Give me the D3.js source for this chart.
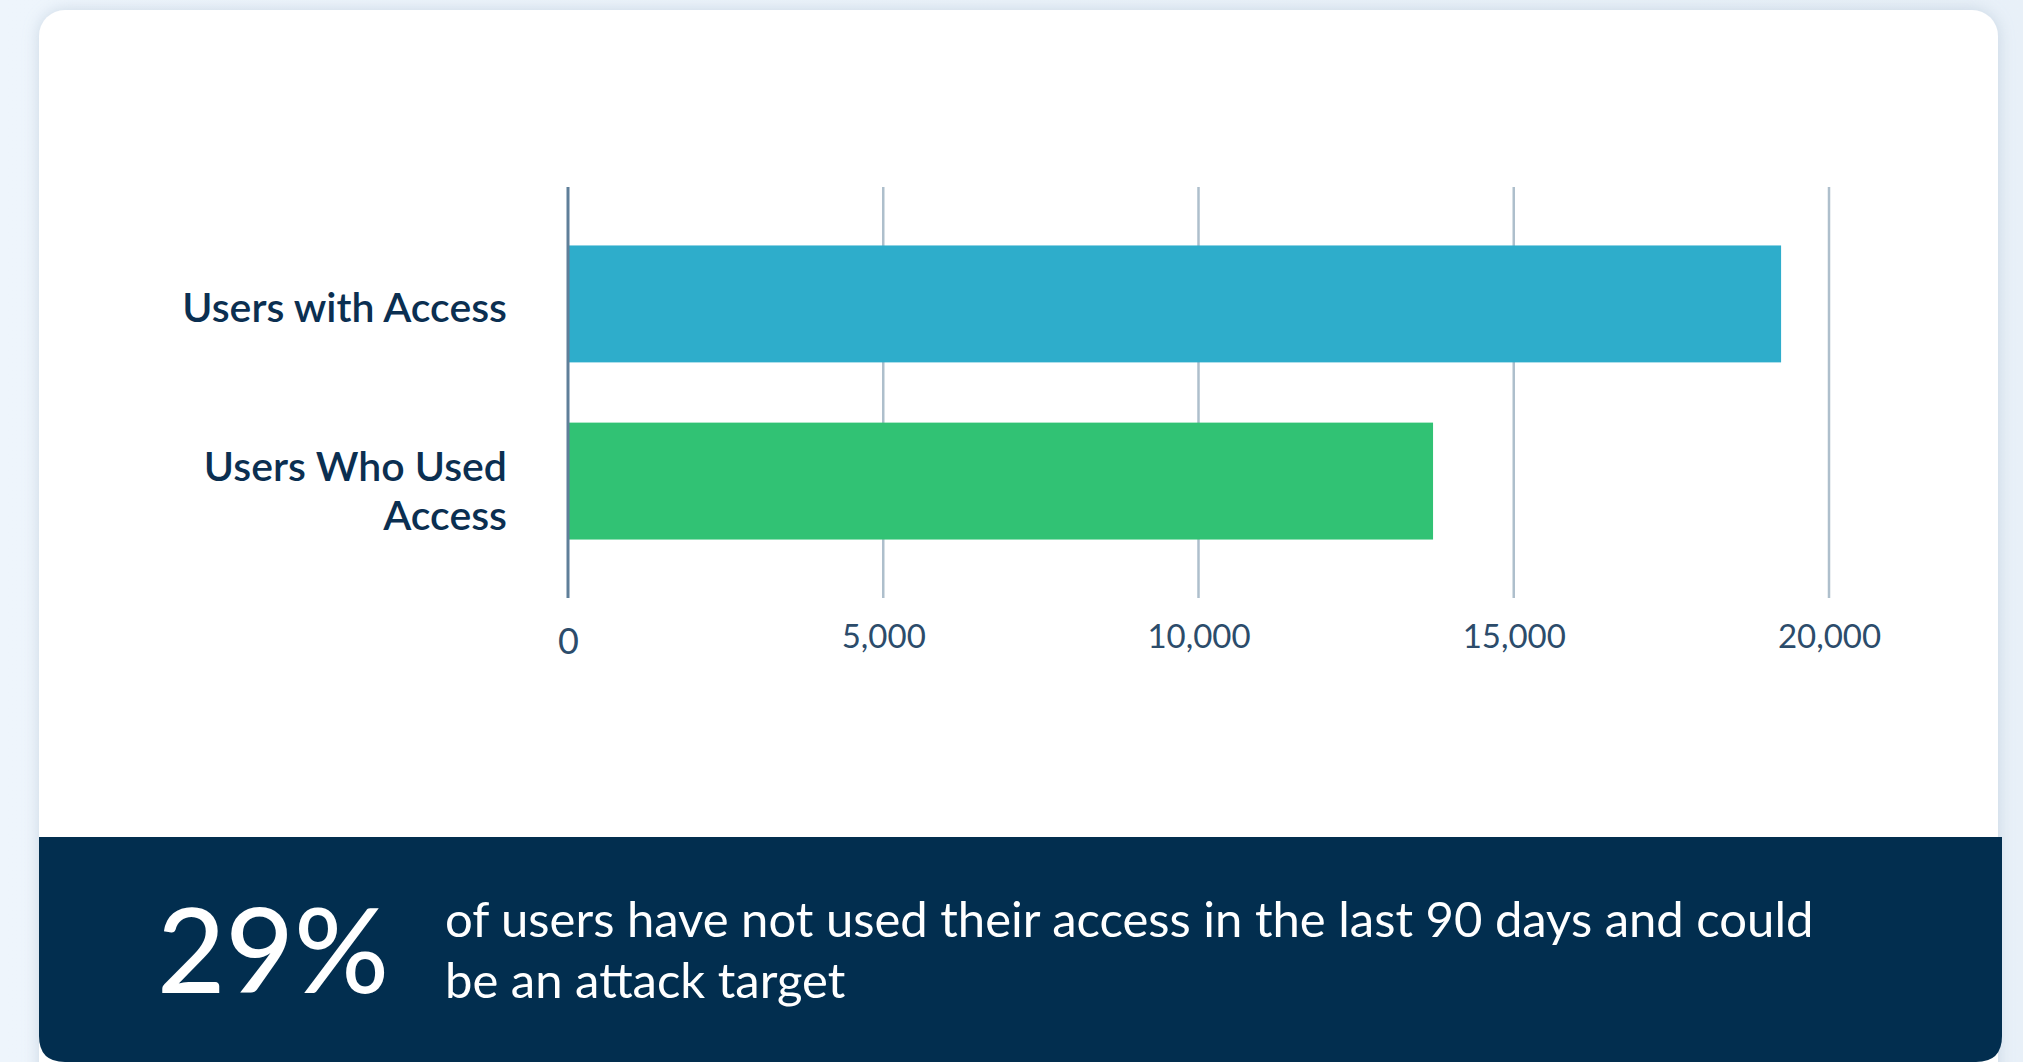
<!DOCTYPE html>
<html>
<head>
<meta charset="utf-8">
<script src="https://cdn.jsdelivr.net/npm/d3@7"></script>
<style>
  html, body { margin: 0; padding: 0; background: #edf3fa; }
  body { width: 2023px; height: 1062px; overflow: hidden; font-family: Lato, "Noto Sans", sans-serif; }
</style>
</head>
<body>
<div id="chart"></div>
<script>
// Chart data
const categories = ["Users with Access", "Users Who Used Access"];
const values = [19240, 13720];
const barColors = ["#2eadcb", "#31c274"];
const tickValues = [0, 5000, 10000, 15000, 20000];
const statValue = "29%";
const statText = ["of users have not used their access in the last 90 days and could", "be an attack target"];

const width = 2023, height = 1062;

const svg = d3.select("#chart")
  .append("svg")
  .attr("width", width)
  .attr("height", height);

// page background gradient + card shadow
const defs = svg.append("defs");
const bg = defs.append("linearGradient").attr("id", "bg").attr("x1", 0).attr("y1", 0).attr("x2", 1).attr("y2", 0);
bg.append("stop").attr("offset", "0%").attr("stop-color", "#eef5fc");
bg.append("stop").attr("offset", "100%").attr("stop-color", "#e8f0f8");
const shadow = defs.append("filter").attr("id", "shadow").attr("x", "-5%").attr("y", "-5%").attr("width", "110%").attr("height", "110%");
shadow.append("feDropShadow").attr("dx", 0).attr("dy", 0).attr("stdDeviation", 8)
  .attr("flood-color", "#9fb3c8").attr("flood-opacity", 0.45);

svg.append("rect").attr("width", width).attr("height", height).attr("fill", "url(#bg)");

// card
svg.append("rect")
  .attr("x", 39).attr("y", 10)
  .attr("width", 1959).attr("height", 1100)
  .attr("rx", 26)
  .attr("fill", "#ffffff")
  .attr("filter", "url(#shadow)");

// chart area
const margin = { left: 568, right: 2023 - 1829, top: 187, bottom: 1062 - 598 };

const x = d3.scaleLinear()
  .domain([0, 20000])
  .range([margin.left, width - margin.right]);

const y = d3.scaleBand()
  .domain(categories)
  .range([margin.top, height - margin.bottom])
  .paddingInner(0.34)
  .paddingOuter(0.33);

// gridlines
svg.append("g")
  .selectAll("line")
  .data(tickValues.slice(1))
  .enter()
  .append("line")
  .attr("x1", d => x(d)).attr("x2", d => x(d))
  .attr("y1", margin.top).attr("y2", height - margin.bottom)
  .attr("stroke", "#aebfcc")
  .attr("stroke-width", 2.5);

// bars
svg.append("g")
  .selectAll("rect")
  .data(values)
  .enter()
  .append("rect")
  .attr("x", x(0))
  .attr("y", (d, i) => y(categories[i]))
  .attr("width", d => x(d) - x(0))
  .attr("height", y.bandwidth())
  .attr("fill", (d, i) => barColors[i]);

// zero line
svg.append("line")
  .attr("x1", x(0)).attr("x2", x(0))
  .attr("y1", margin.top).attr("y2", height - margin.bottom)
  .attr("stroke", "#5f7f99")
  .attr("stroke-width", 3);

// x axis tick labels
const xAxis = d3.axisBottom(x)
  .tickValues(tickValues)
  .tickFormat(d3.format(","))
  .tickSize(0)
  .tickPadding(0);

const xg = svg.append("g")
  .attr("transform", `translate(0, ${height - margin.bottom + 50})`)
  .call(xAxis);
xg.select(".domain").remove();
xg.selectAll("text")
  .attr("dy", 0)
  .attr("y", 0)
  .style("font-family", "Lato, sans-serif")
  .style("font-size", "33px")
  .style("fill", "#2c4c6b");
xg.selectAll(".tick").filter(d => d === 0).select("text")
  .style("font-size", "36px")
  .attr("y", 6);

// y labels, wrapped
const yg = svg.append("g");
categories.forEach(cat => {
  const words = cat.split(" ");
  const lines = [];
  let line = [];
  const maxChars = 17;
  words.forEach(w => {
    const test = line.concat(w).join(" ");
    if (test.length > maxChars && line.length) {
      lines.push(line.join(" "));
      line = [w];
    } else {
      line.push(w);
    }
  });
  lines.push(line.join(" "));
  const lh = 49;
  const cy = y(cat) + y.bandwidth() / 2;
  const shift = lines.length > 1 ? 10 : 4;
  const t = yg.append("text")
    .attr("x", 507)
    .attr("text-anchor", "end")
    .style("font-family", "Lato, sans-serif")
    .style("font-weight", 600)
    .style("font-size", "41px")
    .style("fill", "#0b2f51");
  lines.forEach((l, i) => {
    t.append("tspan")
      .attr("x", 507)
      .attr("y", cy + shift + 14.5 + (i - (lines.length - 1) / 2) * lh)
      .text(l);
  });
});

// footer banner
const fx0 = 39, fx1 = 2002, fy0 = 837, fy1 = 1062, r = 26;
svg.append("path")
  .attr("d", `M${fx0},${fy0} H${fx1} V${fy1 - r} Q${fx1},${fy1} ${fx1 - r},${fy1} H${fx0 + r} Q${fx0},${fy1} ${fx0},${fy1 - r} Z`)
  .attr("fill", "#022e4f");

svg.append("text")
  .attr("x", 157)
  .attr("y", 993)
  .style("font-family", "Lato, sans-serif")
  .style("font-size", "118px")
  .style("font-weight", 500)
  .style("fill", "#ffffff")
  .text(statValue);

const st = svg.append("text")
  .style("font-family", "Lato, sans-serif")
  .style("font-size", "49px")
  .style("fill", "#ffffff");
statText.forEach((l, i) => {
  st.append("tspan")
    .attr("x", 445)
    .attr("y", 937 + i * 61)
    .text(l);
});
</script>
</body>
</html>
